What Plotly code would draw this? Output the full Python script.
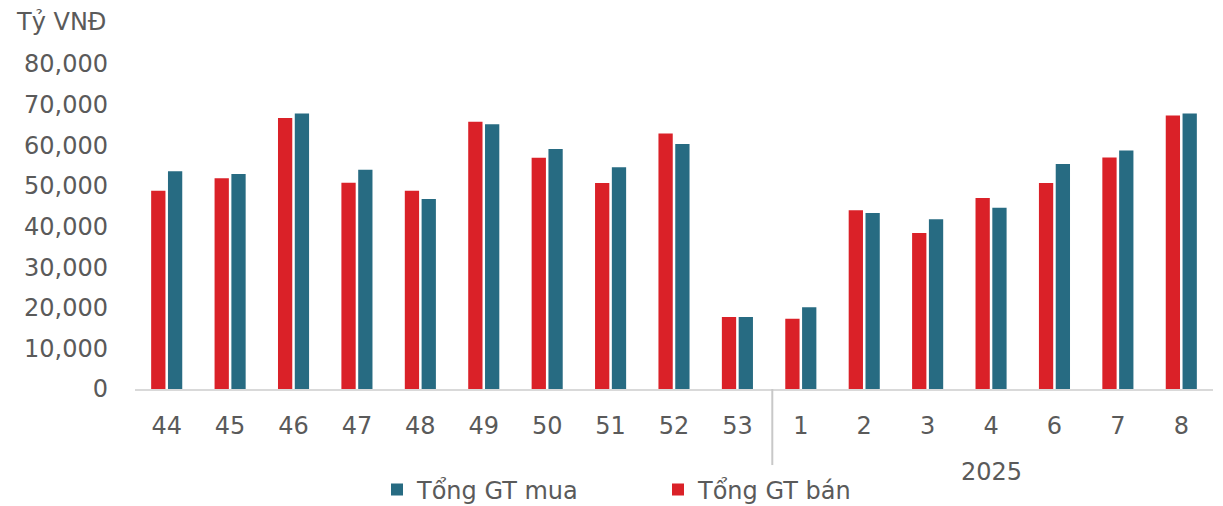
import plotly.graph_objects as go

weeks = ["44", "45", "46", "47", "48", "49", "50", "51", "52", "53",
         "1", "2", "3", "4", "6", "7", "8"]
ban = [48800, 51900, 66700, 50800, 48800, 65800, 56900, 50700, 62900, 17700,
       17300, 44000, 38400, 47000, 50700, 57000, 67300]
mua = [53600, 52900, 67800, 54000, 46800, 65200, 59100, 54600, 60300, 17700,
       20100, 43300, 41800, 44600, 55400, 58700, 67800]
y_ticks = [0, 10000, 20000, 30000, 40000, 50000, 60000, 70000, 80000]

FONT = "DejaVu Sans"
GREY = "#5a5a5a"
RED = "#DA2128"
TEAL = "#276B82"
FS = 24
OFF = 8  # page body margin

fig = go.Figure()
fig.add_trace(go.Bar(x=weeks, y=ban, name="Tổng GT bán", marker_color=RED,
                     marker_line_width=0))
fig.add_trace(go.Bar(x=weeks, y=mua, name="Tổng GT mua", marker_color=TEAL,
                     marker_line_width=0))

fig.update_layout(
    width=1223, height=506,
    margin=dict(l=135 - OFF, r=10 + OFF, t=64 - OFF, b=117 + OFF, autoexpand=False),
    paper_bgcolor="white", plot_bgcolor="white",
    font=dict(family=FONT, size=FS, color=GREY),
    barmode="group", bargap=0.47, bargroupgap=0.15,
    showlegend=True,
    legend=dict(orientation="h", traceorder="reversed",
                xref="container", yref="container",
                x=(377 - OFF) / 1223, xanchor="left",
                y=1 - (490 - OFF) / 506, yanchor="middle",
                entrywidth=236, font=dict(size=FS, color=GREY),
                itemwidth=30),
)
fig.update_xaxes(type="category", showline=True, linecolor="#d9d9d9", linewidth=2,
                 showgrid=False, ticks="", ticklabelstandoff=14, automargin=False,
                 tickfont=dict(size=FS, color=GREY))
fig.update_yaxes(range=[0, 80000], tickvals=y_ticks, tickformat=",",
                 showgrid=False, zeroline=False, showline=False, ticks="",
                 ticklabelstandoff=26, automargin=False,
                 tickfont=dict(size=FS, color=GREY))

fig.add_shape(type="line", xref="x", yref="paper", x0=9.55, x1=9.55, y0=0, y1=-0.234,
              line=dict(color="#c8c8c8", width=2))
fig.add_annotation(text="2025", xref="x", yref="paper", x=13, y=-0.255,
                   showarrow=False, yanchor="middle", font=dict(size=FS, color=GREY))
fig.add_annotation(text="Tỷ VNĐ", xref="paper", yref="paper",
                   x=-121 / 1078, y=(389 - 22) / 325,
                   xanchor="left", yanchor="middle", showarrow=False,
                   font=dict(size=FS, color=GREY))

fig.write_html("out.html")
